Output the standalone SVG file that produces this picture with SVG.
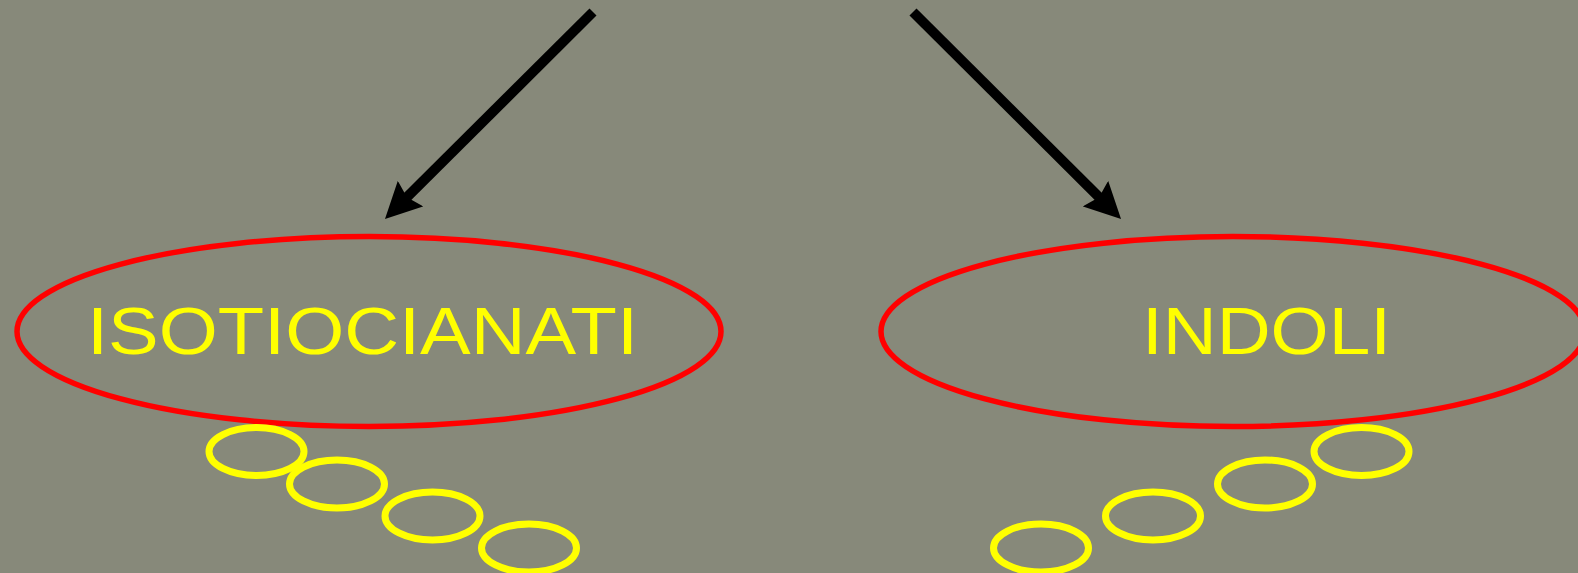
<svg xmlns="http://www.w3.org/2000/svg" width="1578" height="573" viewBox="0 0 1578 573">
  <style>
    .big { fill: none; stroke: #ff0000; stroke-width: 5.5; }
    .bub { fill: none; stroke: #ffff00; stroke-width: 7; }
    .lbl { fill: #ffff00; font-family: "Liberation Sans", "DejaVu Sans", sans-serif; font-size: 66px; }
    .conn { stroke: #000000; stroke-width: 10; stroke-linecap: butt; fill: none; }
  </style>
  <defs>
    <marker id="ah" markerUnits="userSpaceOnUse" viewBox="0 0 36 36" markerWidth="36" markerHeight="36" refX="11" refY="18" orient="auto">
      <path d="M0,0 L36,18 L0,36 L5,18 z" fill="#000000"/>
    </marker>
  </defs>
  <rect x="0" y="0" width="1578" height="573" fill="#87897a"/>

  <g id="connectors">
    <line class="conn" x1="593" y1="12" x2="402.7" y2="201.4" marker-end="url(#ah)"/>
    <line class="conn" x1="913" y1="12" x2="1103.3" y2="201.4" marker-end="url(#ah)"/>
  </g>

  <g id="node-isotiocianati">
    <ellipse class="big" cx="369" cy="331.5" rx="352" ry="95"/>
    <text class="lbl" x="87" y="354" textLength="551" lengthAdjust="spacingAndGlyphs">ISOTIOCIANATI</text>
    <ellipse class="bub" cx="256.5" cy="451.5" rx="47.5" ry="24"/>
    <ellipse class="bub" cx="337" cy="484" rx="47.5" ry="24"/>
    <ellipse class="bub" cx="432.5" cy="516" rx="47.5" ry="24"/>
    <ellipse class="bub" cx="529" cy="548" rx="47.5" ry="24"/>
  </g>

  <g id="node-indoli">
    <ellipse class="big" cx="1233" cy="331.5" rx="352" ry="95"/>
    <text class="lbl" x="1142" y="354" textLength="249" lengthAdjust="spacingAndGlyphs">INDOLI</text>
    <ellipse class="bub" cx="1361.5" cy="451.5" rx="47.5" ry="24"/>
    <ellipse class="bub" cx="1265" cy="484" rx="47.5" ry="24"/>
    <ellipse class="bub" cx="1153" cy="516" rx="47.5" ry="24"/>
    <ellipse class="bub" cx="1041" cy="548" rx="47.5" ry="24"/>
  </g>
</svg>
